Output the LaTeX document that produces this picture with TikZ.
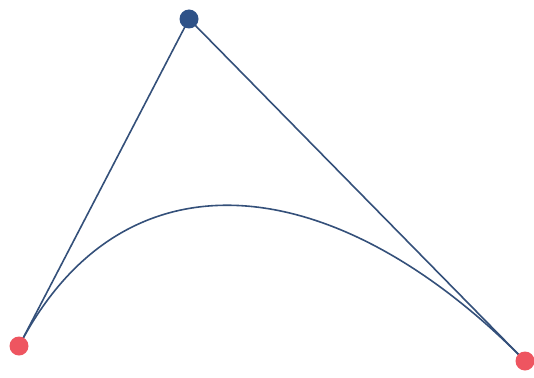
\documentclass[tikz,border=0pt]{standalone}
\usetikzlibrary{calc}
\definecolor{linecol}{HTML}{34507A}
\definecolor{ctrlcol}{HTML}{2E5288}
\definecolor{endcol}{HTML}{EE5560}
\tikzset{
  conn/.style={draw=linecol, line width=1.6pt},
  enddot/.style={circle, fill=endcol, inner sep=0pt, minimum size=19pt},
  ctrldot/.style={circle, fill=ctrlcol, inner sep=0pt, minimum size=19pt}
}
\begin{document}
\begin{tikzpicture}[x=1pt,y=-1pt]
\useasboundingbox (0,0) rectangle (534,377);
\fill[white] (0,0) rectangle (534,377);
\coordinate (p0) at (19,346);
\coordinate (c) at (189,19);
\coordinate (p3) at (525,361);
\coordinate (c1) at ($(p0)!0.62!(c)$);
\coordinate (c2) at ($(p3)!0.56!(c)$);
\draw[conn] (p0) -- (c) -- (p3);
\draw[conn] (p0) .. controls (c1) and (c2) .. (p3);
\node[enddot] (a) at (p0) {};
\node[enddot] (b) at (p3) {};
\node[ctrldot] (k) at (c) {};
\end{tikzpicture}
\end{document}
